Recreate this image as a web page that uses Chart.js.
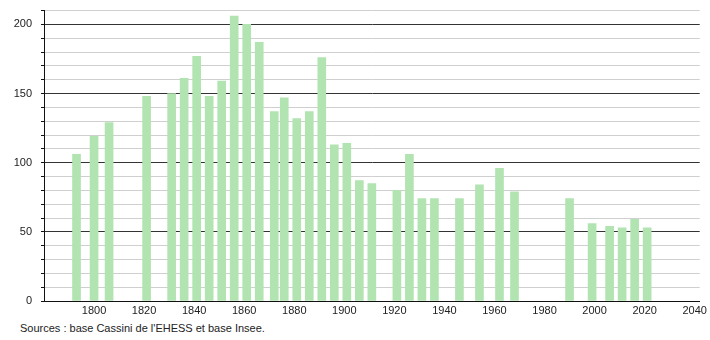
<!DOCTYPE html>
<html>
<head>
<meta charset="utf-8">
<script src="https://cdn.jsdelivr.net/npm/chart.js@4"></script>
<style>
  html, body { margin: 0; padding: 0; background: #fff; overflow: hidden; }
  #wrap { position: relative; width: 710px; height: 340px; overflow: hidden; }
  #chart { position: absolute; left: 0; top: -5px; }
  #source {
    position: absolute; left: 20px; top: 322px;
    font: 11px "Liberation Sans", Arial, sans-serif; color: #222;
  }
</style>
</head>
<body>
<div id="wrap">
  <canvas id="chart" width="710" height="322"></canvas>
  <div id="source">Sources : base Cassini de l'EHESS et base Insee.</div>
</div>
<script>
// recensements (années) et population
const years = [1793, 1800, 1806, 1821, 1831, 1836, 1841, 1846, 1851, 1856,
  1861, 1866, 1872, 1876, 1881, 1886, 1891, 1896, 1901, 1906,
  1911, 1921, 1926, 1931, 1936, 1946, 1954, 1962, 1968, 1990,
  1999, 2006, 2011, 2016, 2021];
const population = [106, 119, 129, 148, 150, 161, 177, 148, 159, 206,
  200, 187, 137, 147, 132, 137, 176, 113, 114, 87,
  85, 80, 106, 74, 74, 74, 84, 96, 79, 74,
  56, 54, 53, 59, 53];
const xTicks = [1800, 1820, 1840, 1860, 1880, 1900, 1920, 1940, 1960, 1980, 2000, 2020, 2040];
const yLabels = [0, 50, 100, 150, 200];

const font = { family: "'Liberation Sans', Arial, sans-serif", size: 11 };

new Chart(document.getElementById("chart").getContext("2d"), {
  type: "bar",
  data: {
    datasets: [{
      label: "Population",
      data: years.map((y, i) => ({ x: y, y: population[i] })),
      backgroundColor: "#b2e4b2",
      borderWidth: 0,
      barThickness: 8,
    }],
  },
  options: {
    responsive: false,
    animation: false,
    layout: { padding: { left: 0, right: 9, top: 5, bottom: 0 } },
    plugins: { legend: { display: false }, tooltip: { enabled: false } },
    scales: {
      x: {
        type: "linear",
        offset: false,
        min: 1780,
        max: 2042,
        afterBuildTicks: (s) => { s.ticks = xTicks.map((v) => ({ value: v })); },
        afterFit: (s) => { s.height = 16; },
        grid: { display: false, drawTicks: false, offset: false },
        border: { color: "#111", width: 1 },
        ticks: { font, color: "#222", padding: 3, maxRotation: 0, autoSkip: false,
          callback: (v) => String(v) },
      },
      y: {
        min: 0,
        max: 210,
        afterBuildTicks: (s) => {
          const t = [];
          for (let v = 0; v <= 210; v += 10) t.push({ value: v });
          s.ticks = t;
        },
        afterFit: (s) => { s.width = 44; },
        grid: {
          color: (c) => (c.tick && c.tick.value % 50 === 0 ? "#333" : "#cfcfcf"),
          lineWidth: 1,
          tickLength: 3,
          tickColor: "#111",
        },
        border: { color: "#111", width: 1 },
        ticks: { font, color: "#222", padding: 9, autoSkip: false,
          callback: (v) => (yLabels.includes(v) ? String(v) : "") },
      },
    },
  },
});
</script>
</body>
</html>
